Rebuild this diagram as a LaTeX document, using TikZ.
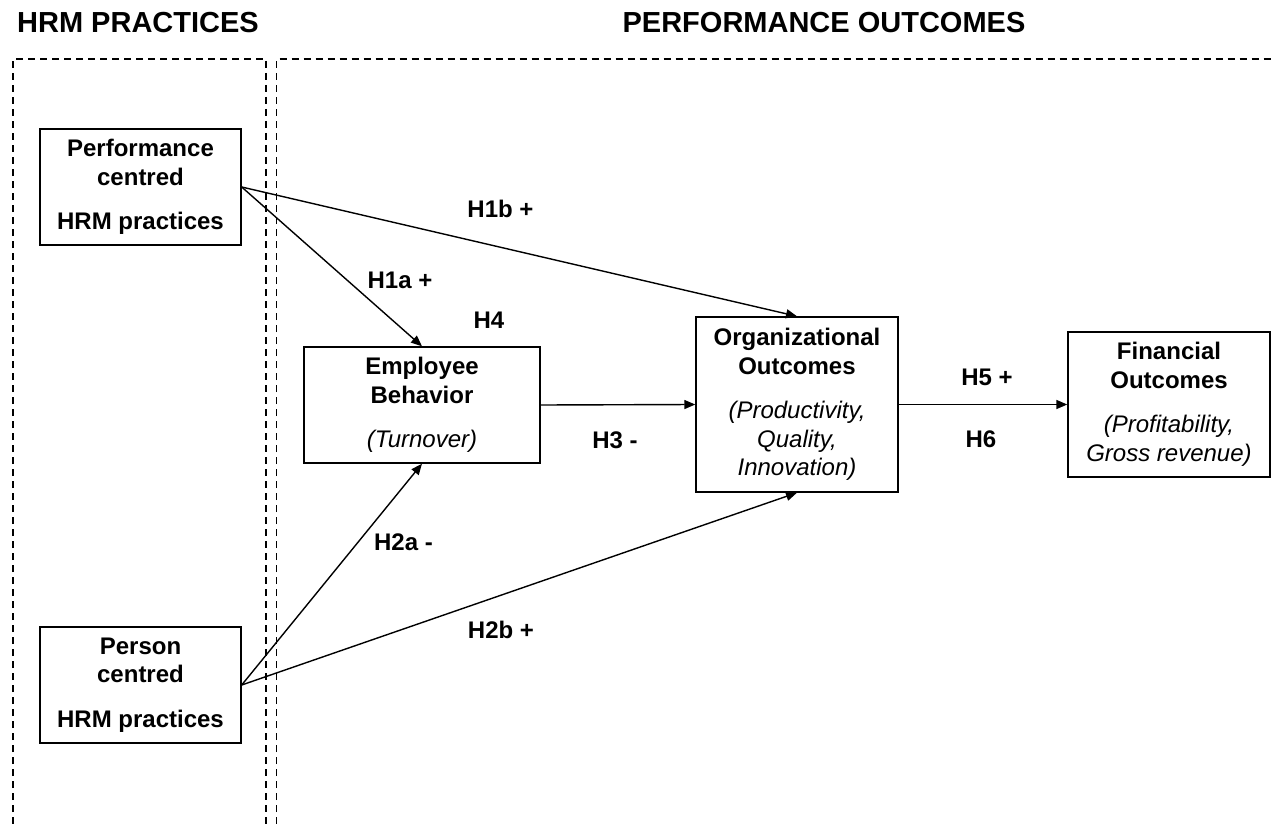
\documentclass[tikz,border=0pt]{standalone}
\usepackage{fontspec}
\setmainfont{Liberation Sans}
\usetikzlibrary{arrows.meta}
\begin{document}
\begin{tikzpicture}[x=1pt,y=-1pt,
  box/.style={draw, line width=1.4pt, align=center, inner sep=0pt, font=\fontsize{24}{28.5}\selectfont\bfseries},
  lbl/.style={anchor=base, inner sep=0pt, font=\fontsize{24}{28}\selectfont\bfseries},
  ttl/.style={anchor=base, inner sep=0pt, font=\fontsize{29}{34}\selectfont\bfseries},
  frame/.style={dash pattern=on 7pt off 5pt, line width=1.4pt},
  conn/.style={line width=1.4pt, -{Triangle[length=11pt,width=9pt]}}]
\useasboundingbox (0,0) rectangle (1272,824);
% frames
\draw[frame] (13,824) -- (13,59) -- (266,59) -- (266,824);
\draw[frame] (276.5,824) -- (276.5,59) -- (1272,59);
% titles
\node[ttl] (t1) at (138,33) {HRM PRACTICES};
\node[ttl] (t2) at (824,33) {PERFORMANCE OUTCOMES};
% boxes
\node[box, minimum width=201pt, minimum height=116pt] (perf) at (140.5,187) {Performance\\centred\\[16pt]HRM practices};
\node[box, minimum width=201pt, minimum height=116pt] (pers) at (140.5,685) {Person\\centred\\[16pt]HRM practices};
\node[box, minimum width=236pt, minimum height=116pt] (emp) at (422,405) {Employee\\Behavior\\[16pt]{\mdseries\itshape (Turnover)}};
\node[box, minimum width=202pt, minimum height=175pt] (org) at (797,404.5) {Organizational\\Outcomes\\[16pt]{\mdseries\itshape (Productivity,}\\{\mdseries\itshape Quality,}\\{\mdseries\itshape Innovation)}};
\node[box, minimum width=202pt, minimum height=145pt] (fin) at (1169,404.5) {Financial\\Outcomes\\[16pt]{\mdseries\itshape (Profitability,}\\{\mdseries\itshape Gross revenue)}};
% connectors
\draw[conn] (perf.east) -- (org.north);
\draw[conn] (perf.east) -- (emp.north);
\draw[conn] (pers.east) -- (emp.south);
\draw[conn] (pers.east) -- (org.south);
\draw[conn] (emp.east) -- (org.west);
\draw[conn] (org.east) -- (fin.west);
% labels
\node[lbl] (h1b) at (500.5,217) {H1b +};
\node[lbl] (h1a) at (400,288) {H1a +};
\node[lbl] (h4) at (489,328) {H4};
\node[lbl] (h3) at (615,448) {H3 -};
\node[lbl] (h5) at (987,385) {H5 +};
\node[lbl] (h6) at (981,447) {H6};
\node[lbl] (h2a) at (403.5,550) {H2a -};
\node[lbl] (h2b) at (501,638) {H2b +};
\end{tikzpicture}
\end{document}
